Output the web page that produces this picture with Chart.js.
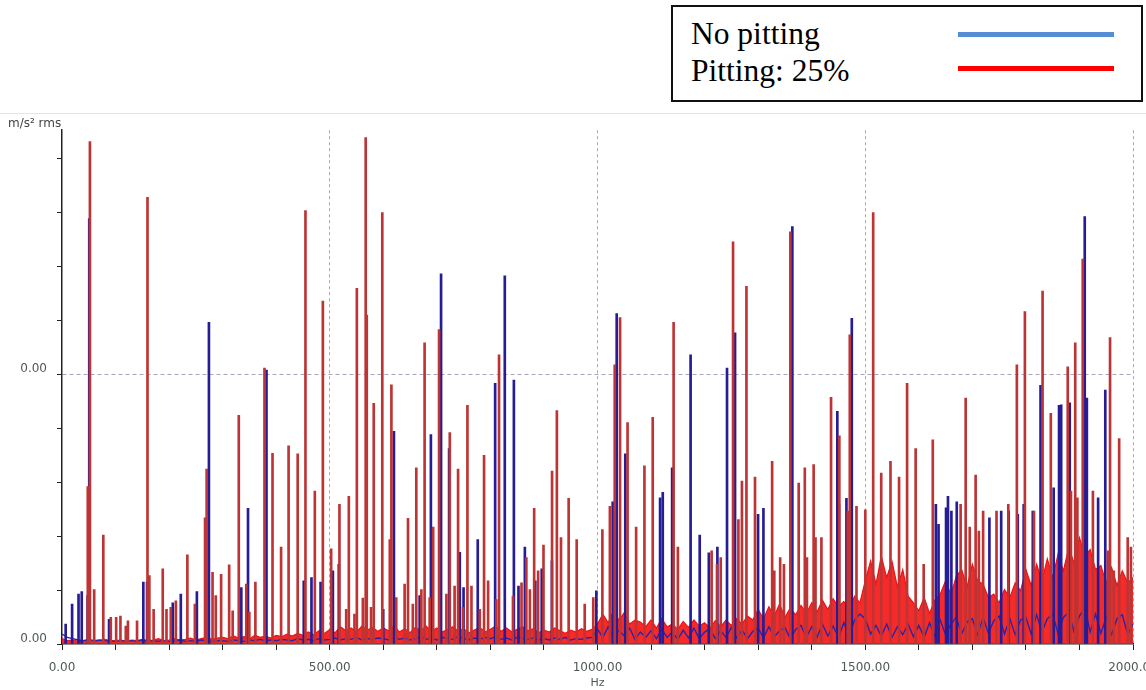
<!DOCTYPE html>
<html>
<head>
<meta charset="utf-8">
<script src="https://cdn.jsdelivr.net/npm/chart.js@4.4.1/dist/chart.umd.min.js"></script>
<style>
  body { margin: 0; width: 1146px; height: 690px; background: #fff; position: relative; overflow: hidden; font-family: "DejaVu Sans", sans-serif; }
  #panel { position: absolute; left: 0; top: 113px; width: 1146px; height: 577px; border-top: 1px solid #e2e4f2; box-sizing: border-box; }
  #chart { position: absolute; left: 0; top: 113px; }
  #unit { position: absolute; left: 8px; top: 116px; font-size: 12px; color: #444; }
  #legend { position: absolute; left: 671px; top: 5px; width: 472px; height: 97px; border: 2px solid #111; box-sizing: border-box;
            font-family: "Liberation Serif", "Times New Roman", serif; font-size: 31.5px; line-height: 30px; color: #000; }
  .row { position: absolute; left: 18px; white-space: nowrap; }
  .swatch { position: absolute; left: 285px; width: 156px; height: 5px; }
</style>
</head>
<body>
<div id="panel"></div>
<canvas id="chart" width="1146" height="577"></canvas>
<div id="unit">m/s² rms</div>
<div id="legend">
  <div class="row" style="top:12px">No pitting</div>
  <div class="row" style="top:49px">Pitting: 25%</div>
  <div class="swatch" style="top:25px;background:#558ed5"></div>
  <div class="swatch" style="top:59px;background:#ff0000"></div>
</div>
<script>
// amplitudes in 1e-3 m/s² rms, frequencies in Hz
const yTicks = [0, 0.812, 1.624, 2.436, 3.248, 4.06, 4.872, 5.684, 6.496, 7.308];
const yLabeled = [0, 4.06];
const yGrid = 4.06;
const xLabelStep = 500;

// pitting 25% - discrete spectral lines
const redPeakHz = [50, 54, 62, 79, 93, 103, 111, 121, 125, 142, 161.5, 165, 173, 190, 197, 205, 214.5, 236, 250, 269, 272, 283, 289, 299,
  314, 320.6, 332, 346, 351.7, 363, 380, 395, 411, 425, 442, 456.5, 474, 489, 504.5, 520, 532.6, 537.5, 548, 552.5, 563.7, 569, 571,
  579, 584, 600, 614, 617, 626, 641.7, 648, 657, 663.5, 673, 679, 688.5, 695, 706, 719.7, 726, 735, 741.5, 750.8, 759, 766.5, 782,
  790, 797.6, 813, 818, 844, 860, 869, 875.6, 883.6, 891, 901, 917, 926, 933.7, 948, 963, 978, 994, 1011, 1025, 1034, 1044, 1058,
  1074, 1089.5, 1105, 1144, 1152, 1215, 1225, 1232, 1255, 1265, 1271.6, 1280, 1296, 1328, 1332, 1343, 1350, 1362, 1377.6, 1389,
  1393, 1405.5, 1409, 1420, 1438, 1453.5, 1469, 1473, 1485.5, 1502, 1516.7, 1531.7, 1549, 1565, 1580, 1596, 1611, 1628, 1680,
  1689.4, 1697, 1708, 1714, 1722, 1747, 1769, 1785, 1800, 1817, 1833, 1848.4, 1880, 1886, 1894, 1898, 1908, 1927, 1955, 1959,
  1966, 1976, 1992, 1998];
const redPeakAmp = [2.37, 7.56, 0.82, 1.64, 0.40, 0.40, 0.42, 0.27, 0.35, 0.35, 6.72, 1.03, 0.52, 1.13, 0.52, 0.55, 0.65, 1.34, 0.60, 1.90, 2.63, 1.08, 0.73, 1.05,
  1.19, 0.50, 3.44, 0.90, 0.48, 0.93, 4.15, 2.87, 1.46, 2.98, 2.86, 6.52, 2.30, 5.16, 1.43, 2.10, 0.52, 2.22, 0.45, 5.35, 0.69, 7.62, 4.95,
  0.55, 3.62, 6.49, 1.57, 3.90, 0.70, 0.90, 1.89, 0.60, 2.65, 0.82, 4.53, 0.70, 1.76, 4.73, 0.75, 3.18, 0.87, 2.63, 0.55, 3.59, 0.87, 0.52,
  2.84, 0.95, 0.67, 4.35, 0.72, 0.92, 1.30, 0.82, 2.04, 1.10, 1.49, 2.60, 3.51, 1.60, 2.19, 1.57, 0.60, 0.70, 1.72, 2.07, 4.20, 4.91, 3.33,
  1.76, 2.68, 3.41, 4.84, 1.46, 1.40, 1.20, 1.30, 6.05, 1.87, 2.45, 5.38, 2.51, 2.75, 1.10, 1.30, 1.20, 6.20, 2.42, 2.65,
  1.30, 2.70, 1.60, 1.60, 3.71, 3.13, 2.00, 4.65, 2.07, 2.02, 6.49, 2.57, 2.75, 2.51, 3.92, 2.94, 1.20, 3.07, 2.10,
  3.70, 1.76, 2.54, 1.70, 2.00, 2.00, 2.10, 4.20, 5.00, 2.00, 5.31, 3.47, 4.17, 2.30, 4.53, 2.20, 5.79, 2.30, 1.40, 4.61,
  1.10, 3.09, 1.60, 1.46];

// no pitting - discrete spectral lines
const bluePeakHz = [5, 17, 29, 35, 46, 49, 86, 150, 157, 205, 220, 250, 272.5, 333, 345.5, 380, 449.6, 464, 481, 504, 515, 598, 618,
  666, 687, 706, 721, 741, 748, 774.5, 807, 825, 842, 850.6, 862.5, 882, 894, 913, 996, 1026.5, 1034, 1050, 1115, 1120, 1137.5,
  1172, 1189, 1206, 1222, 1240, 1255, 1298, 1308, 1362, 1446, 1449, 1463, 1473, 1630, 1635, 1649, 1652.6, 1659, 1669, 1730,
  1752, 1766, 1783, 1794, 1811, 1825.5, 1850, 1860, 1864, 1880, 1908, 1912, 1933, 1946.4];
const bluePeakAmp = [0.30, 0.60, 0.75, 0.79, 0.73, 6.40, 0.37, 0.93, 0.93, 0.62, 0.75, 0.79, 4.84, 0.85, 2.04, 4.12, 0.95, 1.00, 0.93, 1.10, 1.20, 0.52, 3.20,
  0.73, 3.15, 5.57, 2.94, 1.38, 0.85, 1.57, 3.92, 5.54, 3.97, 0.87, 1.46, 0.95, 1.13, 1.25, 0.80, 2.14, 4.97, 2.86, 2.20, 2.28, 2.65,
  4.35, 1.64, 1.37, 1.46, 4.15, 4.68, 1.95, 2.04, 6.28, 3.50, 2.10, 2.19, 4.90, 2.10, 1.80, 2.05, 2.22, 2.00, 2.14, 1.90,
  2.00, 2.00, 1.95, 2.10, 2.00, 3.89, 2.35, 3.59, 3.60, 3.63, 6.43, 3.70, 2.20, 3.82];

// broadband floor, one value per 10 Hz from 0 to 2000 Hz
const noiseStepHz = 10;
const redNoise = [
  0.08, 0.05, 0.06, 0.04, 0.05, 0.06, 0.04, 0.05, 0.07, 0.05,
  0.05, 0.06, 0.04, 0.06, 0.05, 0.07, 0.05, 0.06, 0.08, 0.05,
  0.06, 0.08, 0.06, 0.07, 0.09, 0.06, 0.08, 0.10, 0.07, 0.09,
  0.10, 0.08, 0.12, 0.09, 0.11, 0.08, 0.13, 0.10, 0.12, 0.09,
  0.13, 0.11, 0.15, 0.12, 0.16, 0.13, 0.18, 0.14, 0.20, 0.16,
  0.22, 0.17, 0.26, 0.20, 0.24, 0.18, 0.27, 0.21, 0.25, 0.19,
  0.24, 0.20, 0.28, 0.18, 0.23, 0.17, 0.25, 0.20, 0.27, 0.19,
  0.24, 0.18, 0.22, 0.26, 0.19, 0.23, 0.17, 0.21, 0.25, 0.18,
  0.22, 0.27, 0.19, 0.24, 0.18, 0.22, 0.26, 0.20, 0.23, 0.17,
  0.21, 0.18, 0.24, 0.20, 0.16, 0.21, 0.18, 0.23, 0.19, 0.22,
  0.30, 0.45, 0.32, 0.50, 0.36, 0.47, 0.30, 0.36, 0.33, 0.26,
  0.36, 0.24, 0.38, 0.26, 0.30, 0.22, 0.34, 0.25, 0.36, 0.27,
  0.32, 0.24, 0.35, 0.26, 0.36, 0.28, 0.38, 0.30, 0.42, 0.36,
  0.52, 0.38, 0.56, 0.42, 0.60, 0.40, 0.54, 0.44, 0.58, 0.46,
  0.62, 0.48, 0.66, 0.52, 0.68, 0.56, 0.64, 0.50, 0.72, 0.62,
  0.95, 1.25, 0.90, 1.32, 1.00, 1.24, 0.86, 1.12, 0.72, 0.62,
  0.50, 0.70, 0.46, 0.66, 0.75, 0.95, 0.74, 1.02, 1.12, 0.86,
  1.20, 0.95, 0.90, 0.70, 0.75, 0.62, 0.82, 0.70, 0.92, 0.80,
  1.12, 0.88, 1.20, 0.95, 1.28, 1.00, 1.35, 1.10, 1.45, 1.22,
  1.60, 1.32, 1.42, 1.12, 1.18, 0.92, 1.15, 0.88, 1.10, 0.92,
  1.00];
const blueNoise = [
  0.15, 0.10, 0.08, 0.06, 0.05, 0.07, 0.05, 0.06, 0.05, 0.04,
  0.04, 0.05, 0.04, 0.05, 0.04, 0.06, 0.04, 0.05, 0.04, 0.05,
  0.04, 0.05, 0.06, 0.04, 0.05, 0.04, 0.06, 0.05, 0.04, 0.05,
  0.05, 0.04, 0.06, 0.05, 0.04, 0.06, 0.05, 0.07, 0.05, 0.06,
  0.05, 0.07, 0.06, 0.05, 0.08, 0.06, 0.07, 0.05, 0.08, 0.06,
  0.07, 0.09, 0.06, 0.08, 0.07, 0.10, 0.06, 0.08, 0.07, 0.09,
  0.08, 0.06, 0.10, 0.07, 0.09, 0.06, 0.08, 0.11, 0.07, 0.09,
  0.06, 0.10, 0.08, 0.07, 0.12, 0.08, 0.06, 0.09, 0.07, 0.10,
  0.08, 0.11, 0.07, 0.09, 0.06, 0.10, 0.08, 0.07, 0.09, 0.06,
  0.08, 0.06, 0.09, 0.07, 0.10, 0.06, 0.08, 0.07, 0.09, 0.10,
  0.22, 0.10, 0.26, 0.08, 0.20, 0.12, 0.24, 0.07, 0.18, 0.10,
  0.20, 0.08, 0.22, 0.10, 0.18, 0.07, 0.21, 0.09, 0.24, 0.08,
  0.18, 0.23, 0.08, 0.20, 0.10, 0.25, 0.09, 0.21, 0.08, 0.19,
  0.24, 0.09, 0.26, 0.11, 0.20, 0.25, 0.08, 0.22, 0.28, 0.10,
  0.26, 0.10, 0.30, 0.12, 0.27, 0.10, 0.32, 0.12, 0.36, 0.45,
  0.38, 0.15, 0.28, 0.12, 0.30, 0.10, 0.26, 0.14, 0.30, 0.11,
  0.28, 0.10, 0.32, 0.12, 0.36, 0.14, 0.30, 0.40, 0.15, 0.33,
  0.38, 0.14, 0.40, 0.16, 0.35, 0.42, 0.15, 0.38, 0.14, 0.36,
  0.40, 0.15, 0.44, 0.18, 0.38, 0.45, 0.16, 0.40, 0.48, 0.18,
  0.42, 0.55, 0.18, 0.45, 0.16, 0.40, 0.14, 0.38, 0.44, 0.15,
  0.30];

const toPoints = (hz, amp) => hz.map((f, i) => ({ x: f, y: amp[i] }));
const noisePoints = (vals) => vals.map((v, i) => ({ x: i * noiseStepHz, y: v }));

const tickFont = { family: "DejaVu Sans", size: 12 };
const tickColor = "#4f5858";
const clear = "rgba(0,0,0,0)";

const ctx = document.getElementById("chart").getContext("2d");
new Chart(ctx, {
  type: "line",
  data: {
    datasets: [
      {
        type: "bar",
        label: "Pitting: 25%",
        data: toPoints(redPeakHz, redPeakAmp),
        backgroundColor: "rgb(190,52,52)",
        barThickness: 2,
        order: 0,
      },
      {
        type: "bar",
        label: "No pitting",
        data: toPoints(bluePeakHz, bluePeakAmp),
        backgroundColor: "rgb(38,28,150)",
        barThickness: 2,
        order: 1,
      },
      {
        label: "No pitting floor",
        data: noisePoints(blueNoise),
        borderColor: "rgb(45,35,165)",
        borderWidth: 1.4,
        pointRadius: 0,
        tension: 0,
        order: 2,
      },
      {
        label: "Pitting floor",
        data: noisePoints(redNoise),
        borderColor: "rgb(235,20,20)",
        backgroundColor: "rgba(246,24,24,0.92)",
        fill: "origin",
        borderWidth: 1.2,
        pointRadius: 0,
        tension: 0,
        order: 3,
      },
    ],
  },
  options: {
    responsive: false,
    animation: false,
    layout: { padding: { top: 17, right: 13, left: 0, bottom: 0 } },
    plugins: { legend: { display: false }, tooltip: { enabled: false } },
    scales: {
      x: {
        type: "linear",
        min: 0,
        max: 2000,
        offset: false,
        ticks: {
          stepSize: 100,
          autoSkip: false,
          maxRotation: 0,
          color: tickColor,
          font: tickFont,
          padding: 11,
          callback: (v) => (v % xLabelStep === 0 ? v.toFixed(2) : ""),
        },
        grid: {
          offset: false,
          color: (c) => (c.tick && c.tick.value > 0 && c.tick.value % xLabelStep === 0 ? "rgba(150,150,175,0.85)" : clear),
          tickColor: "#222",
          tickLength: 6,
        },
        border: { color: "#222", width: 1.5, dash: [3, 3] },
        title: { display: true, text: "Hz", color: tickColor, font: { family: "DejaVu Sans", size: 11 }, padding: { top: 0, bottom: 0 } },
        afterFit: (s) => {
          s.height = 46;
          s.paddingLeft = 0;
          s.paddingRight = 0;
        },
      },
      y: {
        min: 0,
        max: 7.73,
        afterBuildTicks: (s) => {
          s.ticks = yTicks.map((v) => ({ value: v }));
        },
        ticks: {
          color: tickColor,
          font: tickFont,
          padding: 10,
          labelOffset: -5,
          callback: (v) => (yLabeled.includes(v) ? (v / 1000).toFixed(2) : ""),
        },
        grid: {
          color: (c) => (c.tick && c.tick.value === yGrid ? "rgba(150,150,175,0.85)" : clear),
          tickColor: "#222",
          tickLength: 5,
        },
        border: { color: "#222", width: 1.5, dash: [4, 3] },
        afterFit: (s) => {
          s.width = 62;
        },
      },
    },
  },
});
</script>
</body>
</html>
